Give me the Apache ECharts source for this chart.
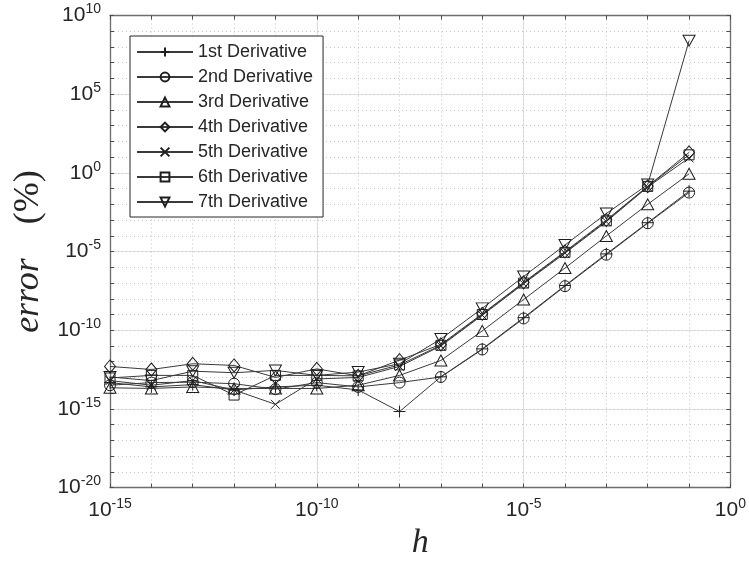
<!DOCTYPE html>
<html><head><meta charset="utf-8">
<script src="https://cdn.jsdelivr.net/npm/echarts@6/dist/echarts.min.js"></script>
<style>html,body{margin:0;padding:0;background:#fff}#c{width:749px;height:565px}</style>
</head><body><div id="c"></div>
<script>
// step sizes h
const hValues = [1e-15,1e-14,1e-13,1e-12,1e-11,1e-10,1e-9,1e-8,1e-7,1e-6,1e-5,1e-4,1e-3,1e-2,1e-1];
// error (%) per derivative order
const err1 = [4.7e-14,2.5e-14,3.5e-14,1.6e-14,2.5e-14,3.2e-14,1.6e-14,6.8e-16,1.1e-13,6.5e-12,6.3e-10,6.9e-8,7.1e-6,6.8e-4,6.9e-2];
const err2 = [3.2e-14,4.7e-14,5.0e-14,4.0e-14,1.8e-14,4.7e-14,2.5e-14,4.7e-14,1.07e-13,6.0e-12,5.6e-10,6.3e-8,6.3e-6,6.3e-4,5.6e-2];
const err3 = [2.2e-14,2.0e-14,2.5e-14,2.0e-14,2.0e-14,2.0e-14,3.2e-14,1.35e-13,1.2e-12,9.1e-11,8.9e-9,8.9e-7,9.8e-5,1.0e-2,0.87];
const err4 = [5.0e-13,3.2e-13,7.4e-13,5.8e-13,1.0e-13,3.5e-13,1.26e-13,1.26e-12,1.26e-11,1.1e-9,1.1e-7,1.0e-5,1.0e-3,0.14,20];
const err5 = [6.3e-14,3.2e-14,6.3e-14,1.6e-14,1.95e-15,8.0e-14,1.0e-13,5.0e-13,1.0e-11,8.9e-10,8.9e-8,7.9e-6,7.9e-4,0.126,8.9];
const err6 = [9.3e-14,1.35e-13,1.35e-13,7.6e-15,1.35e-13,1.35e-13,1.26e-13,6.3e-13,1.1e-11,1.0e-9,1.0e-7,8.9e-6,8.9e-4,0.138,14];
const err7 = [1.07e-13,6.3e-14,2.5e-13,2.0e-13,2.8e-13,1.35e-13,2.2e-13,7.4e-13,2.75e-11,2.45e-9,2.6e-7,2.6e-5,2.6e-3,0.18,2.5e8];
const seriesNames = ['1st Derivative','2nd Derivative','3rd Derivative','4th Derivative','5th Derivative','6th Derivative','7th Derivative'];
const xTickExponents = [-15,-10,-5,0];
const yTickExponents = [-20,-15,-10,-5,0,5,10];

const allErr = [err1,err2,err3,err4,err5,err6,err7];
const symbols = [
  'path://M5,0L5,10M0,5L10,5',
  'circle',
  'triangle',
  'diamond',
  'path://M0,0L10,10M0,10L10,0',
  'rect',
  'path://M0,0L10,0L5,9Z'
];
const symSizes = [12, 11, [12,11], [11,13], 9, 10, [12,11]];

const chart = echarts.init(document.getElementById('c'), null, {renderer:'canvas'});
const supFmt = function(v){
  const e = Math.round(Math.log10(v));
  return '{b|10}{s|' + e + '}';
};
const labelRich = {
  b:{fontSize:21, fontFamily:'Liberation Sans', color:'#262626', lineHeight:26},
  s:{fontSize:14, fontFamily:'Liberation Sans', color:'#262626', lineHeight:14, verticalAlign:'top'}
};
const minorBase = {
  type:'log', logBase:10, interval:1,
  axisLabel:{show:false}, axisLine:{show:false},
  axisTick:{show:true, inside:true, length:4, lineStyle:{color:'#4d4d4d'}},
  splitLine:{show:true, lineStyle:{color:'#c4c4c4', width:1, type:[1,3]}}
};
const boxBase = {
  type:'log', logBase:10, interval:1,
  axisLabel:{show:false},
  axisLine:{show:true, lineStyle:{color:'#6e6e6e', width:1.3}},
  axisTick:{show:true, inside:true, length:4, lineStyle:{color:'#4d4d4d'}},
  splitLine:{show:false}
};

const option = {
  animation:false,
  backgroundColor:'#ffffff',
  grid:{left:110, right:17.5, top:15.5, bottom:69.5, containLabel:false},
  xAxis:[
    {type:'log', logBase:10, min:1e-15, max:1, interval:5, position:'bottom',
     name:'h', nameLocation:'middle', nameGap:36,
     nameTextStyle:{fontFamily:'Liberation Serif', fontStyle:'italic', fontSize:34, color:'#262626'},
     axisLine:{show:true, lineStyle:{color:'#6e6e6e', width:1.3}},
     axisTick:{show:false},
     axisLabel:{formatter:supFmt, rich:labelRich, margin:10, showMinLabel:true, showMaxLabel:true},
     splitLine:{show:true, lineStyle:{color:'#e3e3e3', width:1.2}}},
    Object.assign({}, minorBase, {min:1e-15, max:1, position:'bottom'}),
    Object.assign({}, boxBase, {min:1e-15, max:1, position:'top'})
  ],
  yAxis:[
    {type:'log', logBase:10, min:1e-20, max:1e10, interval:5, position:'left',
     name:'{i|error}{n|(%)}', nameLocation:'middle', nameGap:58, nameRotate:90,
     nameTextStyle:{rich:{
       i:{fontFamily:'Liberation Serif', fontStyle:'italic', fontSize:36, color:'#262626'},
       n:{fontFamily:'Liberation Serif', fontSize:36, color:'#262626', padding:[0,0,0,34]}}},
     axisLine:{show:true, lineStyle:{color:'#6e6e6e', width:1.3}},
     axisTick:{show:false},
     axisLabel:{formatter:supFmt, rich:labelRich, margin:9, showMinLabel:true, showMaxLabel:true},
     splitLine:{show:true, lineStyle:{color:'#e3e3e3', width:1.2}}},
    Object.assign({}, minorBase, {min:1e-20, max:1e10, position:'left'}),
    Object.assign({}, boxBase, {min:1e-20, max:1e10, position:'right'})
  ],
  legend:{
    show:true, orient:'vertical', left:130, top:36,
    backgroundColor:'#ffffff', borderColor:'#262626', borderWidth:1,
    padding:[7,10,6,6], itemGap:7, itemWidth:56, itemHeight:11,
    textStyle:{fontFamily:'Liberation Sans', fontSize:18, color:'#262626'},
    data:seriesNames
  },
  series: allErr.map(function(arr, k){
    return {
      type:'line', name:seriesNames[k], xAxisIndex:0, yAxisIndex:0,
      data: hValues.map(function(h,i){ return [h, arr[i]]; }),
      symbol:symbols[k], symbolSize:symSizes[k], showSymbol:true, showAllSymbol:true,
      lineStyle:{color:'#3a3a3a', width:1},
      itemStyle:{color:'rgba(0,0,0,0)', borderColor:'#1e1e1e', borderWidth:1},
      emphasis:{disabled:true}, z:3
    };
  })
};
chart.setOption(option);
</script></body></html>
